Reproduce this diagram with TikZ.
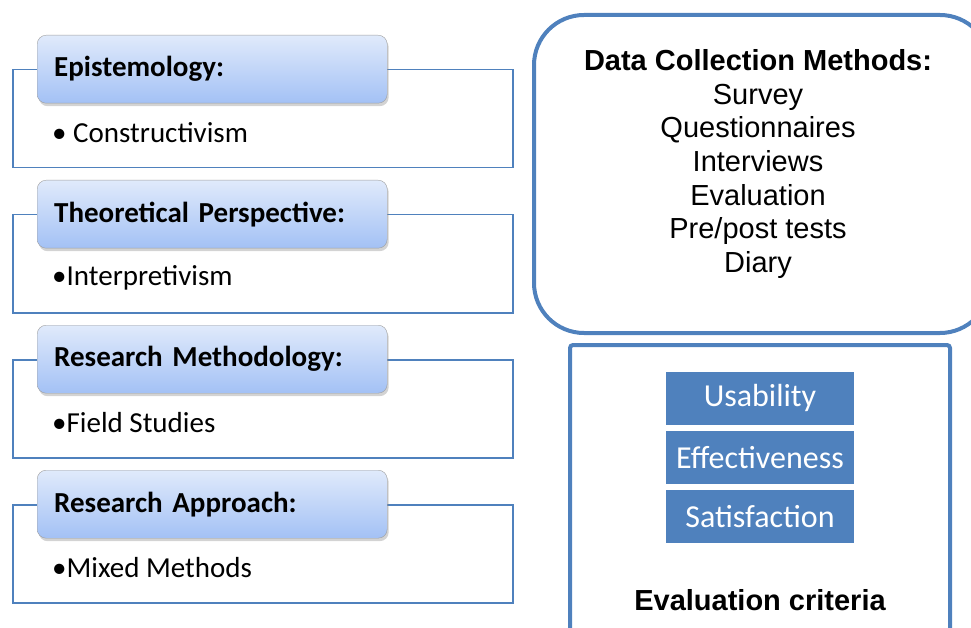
\documentclass[tikz,border=0pt]{standalone}
\usepackage{fontspec}
\setmainfont{Carlito}
\newfontfamily\arialfont{Liberation Sans}
\usetikzlibrary{positioning,shadows}

\definecolor{accent}{RGB}{79,129,189}
\definecolor{headtop}{RGB}{224,234,251}
\definecolor{headbot}{RGB}{163,193,245}

\tikzset{
  frame/.style={draw=accent, line width=1.5pt, minimum width=500pt, minimum height=98pt, anchor=north west, inner sep=0pt},
  header/.style={draw=gray!75, rounded corners=9pt, top color=headtop, bottom color=headbot,
    minimum width=350pt, minimum height=68pt, anchor=north west, text width=316pt, align=left,
    inner xsep=17pt, font=\bfseries\fontsize{29}{32}\selectfont,
    drop shadow={opacity=0.35, shadow xshift=1.5pt, shadow yshift=-3pt}},
  item/.style={anchor=west, inner sep=0pt, font=\fontsize{29}{32}\selectfont},
  crit/.style={fill=accent, text=white, minimum width=188pt, minimum height=53pt, inner sep=0pt, font=\fontsize{32}{34}\selectfont},
}

\begin{document}
\begin{tikzpicture}[x=1pt, y=-1pt]
    \useasboundingbox (0,0) rectangle (971,628);

    % Left column: four framed steps
    \foreach \i/\head/\entry in {0/Epistemology:/{\textbullet\ Constructivism}, 1/Theoretical Perspective:/{\textbullet Interpretivism}, 2/Research Methodology:/{\textbullet Field Studies}, 3/Research Approach:/{\textbullet Mixed Methods}} {
      \node[frame] (frame\i) at (12, 69+145*\i) {};
      \node[header] (head\i) at (37, 35+145*\i) {\head};
      \node[item] (item\i) at (52, 132.5+145*\i) {\entry};
    }

    % Data collection methods
    \node[draw=accent, line width=4pt, rounded corners=50pt, minimum width=456pt, minimum height=318pt] (methods) at (762,174) {};
    \node[align=center, font=\arialfont\fontsize{29}{33.7}\selectfont] (methodslist) at (758,164)
      {\textbf{Data Collection Methods:}\\Survey\\Questionnaires\\Interviews\\Evaluation\\Pre/post tests\\Diary};

    % Evaluation criteria
    \node[draw=accent, line width=4pt, rounded corners=3pt, minimum width=380pt, minimum height=305pt] (criteria) at (760,497.5) {};
    \node[crit] (usability) at (760,398) {Usability};
    \node[crit, below=6pt of usability] (effectiveness) {Effectiveness};
    \node[crit, below=6pt of effectiveness] (satisfaction) {Satisfaction};
    \node[font=\arialfont\bfseries\fontsize{29}{31}\selectfont] (critlabel) at (760,600) {Evaluation criteria};

\end{tikzpicture}
\end{document}
